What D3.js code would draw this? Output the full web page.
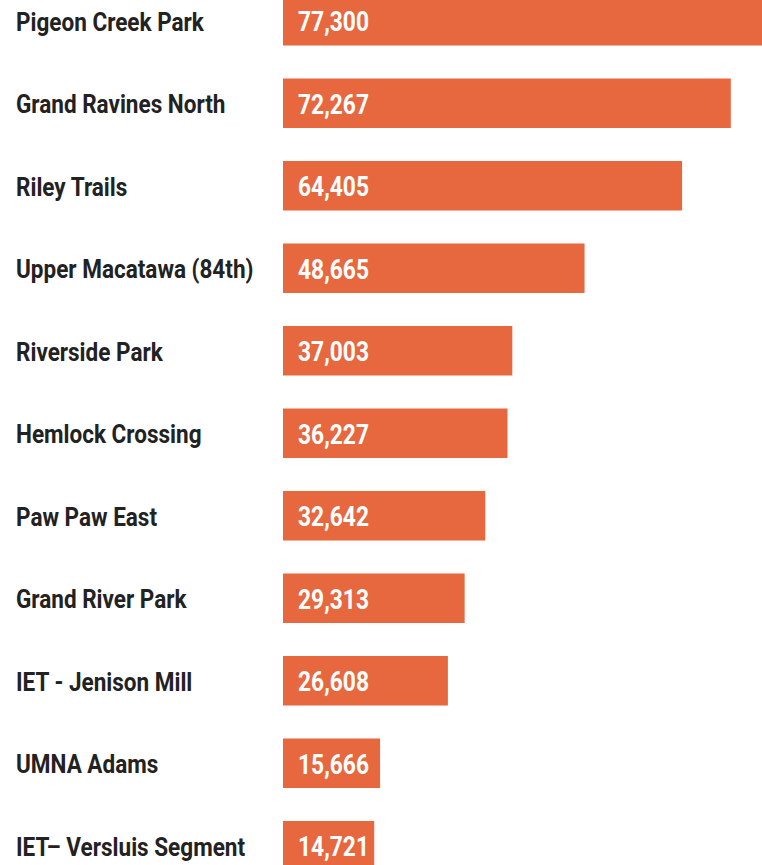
<!DOCTYPE html>
<html>
<head>
<meta charset="utf-8">
<script src="https://cdn.jsdelivr.net/npm/d3@7/dist/d3.min.js"></script>
<style>
  html, body { margin: 0; padding: 0; background: #ffffff; overflow: hidden; }
  svg { display: block; }
  .lbl { font-family: Roboto, "Liberation Sans", sans-serif; font-weight: bold; }
</style>
</head>
<body>
<svg id="chart" width="762" height="865"></svg>
<script>
const categories = [
  "Pigeon Creek Park",
  "Grand Ravines North",
  "Riley Trails",
  "Upper Macatawa (84th)",
  "Riverside Park",
  "Hemlock Crossing",
  "Paw Paw East",
  "Grand River Park",
  "IET - Jenison Mill",
  "UMNA Adams",
  "IET\u2013 Versluis Segment"
];
const values = [77300, 72267, 64405, 48665, 37003, 36227, 32642, 29313, 26608, 15666, 14721];

const svg = d3.select("#chart");
const data = categories.map((c, i) => ({ name: c, value: values[i] }));

const x = d3.scaleLinear().domain([0, d3.max(values)]).range([283, 762]);
const y = d3.scaleBand().domain(categories).range([-4, 870.5]).paddingInner(0.4).paddingOuter(0);

const fmt = d3.format(",");
const g = svg.append("g");

g.selectAll("rect.bar").data(data).join("rect")
  .attr("class", "bar")
  .attr("x", x(0))
  .attr("y", d => y(d.name))
  .attr("width", d => x(d.value) - x(0))
  .attr("height", y.bandwidth())
  .attr("fill", "#E7673F");

const names = g.selectAll("text.name").data(data).join("text")
  .attr("class", "lbl name")
  .attr("x", 0)
  .attr("y", 0)
  .attr("font-size", 25)
  .attr("fill", "#222222")
  .text(d => d.name);

// condense horizontally so the labels match the narrow face of the original
const refName = names.filter((d, i) => i === 0).node().getComputedTextLength();
const kName = 188 / refName;
names.attr("transform", d => `translate(16,${y(d.name) + y.bandwidth() / 2 + 10}) scale(${kName},1)`);

const vals = g.selectAll("text.val").data(data).join("text")
  .attr("class", "lbl val")
  .attr("x", 0)
  .attr("y", 0)
  .attr("font-size", 28)
  .attr("fill", "#ffffff")
  .text(d => fmt(d.value));

const refVal = vals.filter((d, i) => i === 0).node().getComputedTextLength();
const kVal = 71 / refVal;
vals.attr("transform", d => `translate(${x(0) + 15},${y(d.name) + y.bandwidth() / 2 + 10.5}) scale(${kVal},1)`);
</script>
</body>
</html>
